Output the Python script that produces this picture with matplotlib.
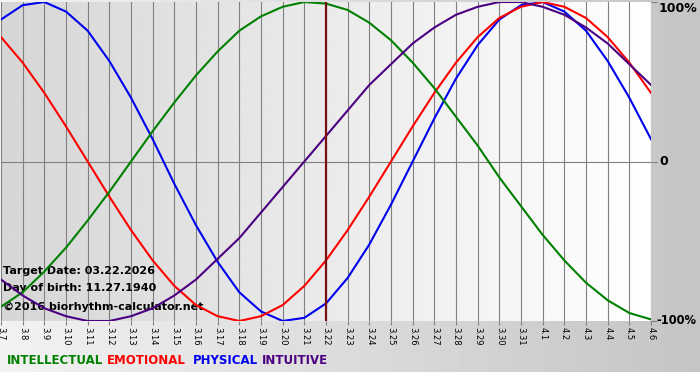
import numpy as np
import matplotlib.pyplot as plt

# day labels (March 7 .. April 6)
days = ['3.7', '3.8', '3.9', '3.10', '3.11', '3.12', '3.13', '3.14', '3.15', '3.16',
        '3.17', '3.18', '3.19', '3.20', '3.21', '3.22', '3.23', '3.24', '3.25', '3.26',
        '3.27', '3.28', '3.29', '3.30', '3.31', '4.1', '4.2', '4.3', '4.4', '4.5', '4.6']
target_idx = 15  # 3.22

# curve values, one per day
physical = [0.89, 0.98, 1.00, 0.94, 0.82, 0.63, 0.40, 0.14, -0.14, -0.40, -0.63, -0.82,
            -0.94, -1.00, -0.98, -0.89, -0.73, -0.52, -0.27, 0.00, 0.27, 0.52, 0.73,
            0.89, 0.98, 1.00, 0.94, 0.82, 0.63, 0.40, 0.14]
emotional = [0.78, 0.62, 0.43, 0.22, 0.00, -0.22, -0.43, -0.62, -0.78, -0.90, -0.97,
             -1.00, -0.97, -0.90, -0.78, -0.62, -0.43, -0.22, 0.00, 0.22, 0.43, 0.62,
             0.78, 0.90, 0.97, 1.00, 0.97, 0.90, 0.78, 0.62, 0.43]
intellectual = [-0.91, -0.82, -0.69, -0.54, -0.37, -0.19, 0.00, 0.19, 0.37, 0.54, 0.69,
                0.82, 0.91, 0.97, 1.00, 0.99, 0.95, 0.87, 0.76, 0.62, 0.46, 0.28, 0.10,
                -0.10, -0.28, -0.46, -0.62, -0.76, -0.87, -0.95, -0.99]
intuitive = [-0.74, -0.84, -0.92, -0.97, -1.00, -1.00, -0.97, -0.92, -0.84, -0.74, -0.61,
             -0.48, -0.32, -0.16, 0.00, 0.16, 0.32, 0.48, 0.61, 0.74, 0.84, 0.92, 0.97,
             1.00, 1.00, 0.97, 0.92, 0.84, 0.74, 0.61, 0.48]

y_ticks = [1, 0, -1]
y_labels = ['100%', '0', '-100%']

GREEN, RED, BLUE, PURPLE = '#008000', '#ff0000', '#0000ee', '#4b0082'

W, H = 700, 380
fig = plt.figure(figsize=(W / 100, H / 100), dpi=100)

# background gradient for the whole picture
bg = fig.add_axes([0, 0, 1, 1], zorder=-2)
img = np.tile(np.linspace(0.95, 0.77, 256), (H, 1))
img[372:, :] = 1.0
bg.imshow(img, cmap='gray', vmin=0, vmax=1, aspect='auto', extent=(0, W, H, 0))
bg.axis('off')

# plot area
ax = fig.add_axes([1 / W, 1 - 321 / H, 650 / W, 319 / H])
x = np.arange(len(days))
ax.imshow(np.tile(np.linspace(0.84, 1.0, 256), (2, 1)), cmap='gray', vmin=0, vmax=1,
          aspect='auto', extent=(x[0], x[-1], -1, 1), zorder=0)
ax.set_xlim(x[0], x[-1])
ax.set_ylim(-1, 1)

for xi in x:
    ax.axvline(xi, color='#808080', lw=0.8, zorder=1)
ax.axhline(0, color='#808080', lw=0.8, zorder=1)
ax.axvline(target_idx, color='#7a1010', lw=1.6, zorder=4)

ax.plot(x, physical, color=BLUE, lw=1.5, zorder=3)
ax.plot(x, emotional, color=RED, lw=1.5, zorder=3)
ax.plot(x, intellectual, color=GREEN, lw=1.5, zorder=3)
ax.plot(x, intuitive, color=PURPLE, lw=1.5, zorder=3)

for s in ax.spines.values():
    s.set_visible(False)

ax.set_xticks(x)
ax.set_xticklabels(days, rotation=-90, fontsize=6)
ax.tick_params(axis='x', length=3, color='#808080', pad=1)

ax.yaxis.tick_right()
ax.set_yticks(y_ticks)
ax.set_yticklabels([])
ax.tick_params(axis='y', length=4, color='#808080')
ytr = ax.get_yaxis_transform()
for yv, lab in zip(y_ticks, y_labels):
    off = 8 if yv == 1 else (8 if yv == 0 else 5)
    ax.text(1 + off / 650, yv, lab, transform=ytr, fontsize=9 if yv != -1 else 8.3,
            fontweight='bold', ha='left', va='top' if yv == 1 else 'center', clip_on=False)

# info text inside the chart
info = ['Target Date: 03.22.2026', 'Day of birth: 11.27.1940', '\u00a92016 biorhythm-calculator.net']
info_y = [271, 288, 307]
for t, yy in zip(info, info_y):
    ax.text(2 / 650, 1 - (yy - 2) / 319, t, transform=ax.transAxes, fontsize=8,
            fontweight='bold', color='black', ha='left', va='center', zorder=2)

# legend row
legend_names = ['INTELLECTUAL', 'EMOTIONAL', 'PHYSICAL', 'INTUITIVE']
legend_colors = [GREEN, RED, BLUE, PURPLE]
legend_x = [7, 107, 193, 262]
for name, c, lx in zip(legend_names, legend_colors, legend_x):
    fig.text(lx / W, 1 - 361 / H, name, color=c, fontsize=8.5, fontweight='bold',
             ha='left', va='center')

fig.savefig('out.png', dpi=100)
